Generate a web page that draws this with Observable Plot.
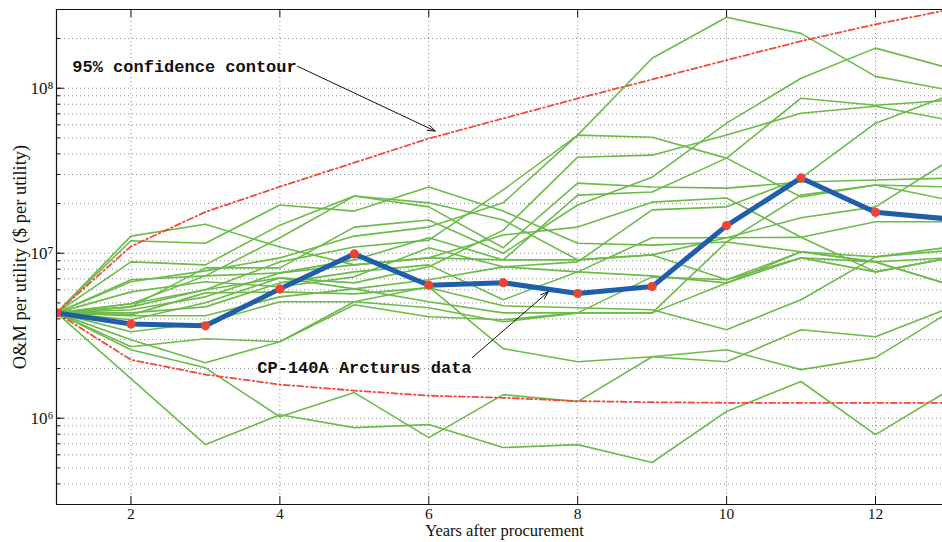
<!DOCTYPE html>
<html>
<head>
<meta charset="utf-8">
<script src="https://cdn.jsdelivr.net/npm/d3@7"></script>
<script src="https://cdn.jsdelivr.net/npm/@observablehq/plot@0.6"></script>
<style>
  html, body { margin: 0; padding: 0; background: #fff; overflow: hidden; }
</style>
</head>
<body>
<div id="chart"></div>
<script>
const years = [1, 2, 3, 4, 5, 6, 7, 8, 9, 10, 11, 12, 13];
const xTickValues = [2, 4, 6, 8, 10, 12];
const yMajorTicks = [1e6, 1e7, 1e8];

const arcturus = [4.35e6, 3.72e6, 3.63e6, 6.08e6, 9.9e6, 6.4e6, 6.63e6, 5.7e6, 6.28e6, 1.47e7, 2.86e7, 1.77e7, 1.61e7];
const upperContour = [4.35e6, 1.1e7, 1.78e7, 2.53e7, 3.54e7, 4.96e7, 6.56e7, 8.67e7, 1.13e8, 1.48e8, 1.93e8, 2.44e8, 3.0e8];
const lowerContour = [4.35e6, 2.26e6, 1.84e6, 1.6e6, 1.47e6, 1.37e6, 1.33e6, 1.27e6, 1.25e6, 1.24e6, 1.24e6, 1.24e6, 1.24e6];

const sim01 = [4.35e6, 4.94e6, 6.00e6, 8.86e6, 1.09e7, 1.20e7, 2.42e7, 5.20e7, 1.52e8, 2.69e8, 2.15e8, 1.18e8, 9.72e7];
const sim02 = [4.35e6, 3.95e6, 5.01e6, 7.09e6, 6.61e6, 8.27e6, 1.38e7, 3.82e7, 3.93e7, 5.20e7, 7.06e7, 7.78e7, 6.40e7];
const sim03 = [4.35e6, 6.71e6, 7.82e6, 9.37e6, 1.27e7, 1.44e7, 2.02e7, 5.20e7, 5.05e7, 3.77e7, 2.19e7, 2.59e7, 2.52e7];
const sim04 = [4.35e6, 1.27e7, 1.50e7, 1.09e7, 8.50e6, 9.37e6, 1.29e7, 1.44e7, 2.04e7, 2.16e7, 1.25e7, 1.55e7, 1.55e7];
const sim05 = [4.35e6, 1.19e7, 1.15e7, 1.96e7, 1.80e7, 2.52e7, 1.80e7, 1.15e7, 1.12e7, 1.17e7, 1.02e7, 9.50e6, 1.04e7];
const sim06 = [4.35e6, 8.86e6, 8.50e6, 1.48e7, 2.22e7, 2.02e7, 1.59e7, 9.11e6, 9.77e6, 6.90e6, 9.37e6, 7.71e6, 9.37e6];
const sim07 = [4.35e6, 6.90e6, 7.29e6, 1.24e7, 2.22e7, 1.91e7, 1.08e7, 2.66e7, 2.52e7, 2.48e7, 2.70e7, 2.78e7, 2.85e7];
const sim08 = [4.35e6, 4.73e6, 8.15e6, 8.15e6, 1.44e7, 1.59e7, 1.00e7, 1.96e7, 2.89e7, 6.14e7, 1.15e8, 1.75e8, 1.32e8];
const sim09 = [4.35e6, 4.54e6, 5.44e6, 7.60e6, 9.11e6, 1.24e7, 9.11e6, 2.25e7, 2.35e7, 3.77e7, 8.70e7, 7.89e7, 8.46e7];
const sim10 = [4.35e6, 5.83e6, 6.71e6, 6.26e6, 7.19e6, 1.08e7, 8.27e6, 8.86e6, 1.83e7, 1.91e7, 2.85e7, 6.14e7, 9.07e7];
const sim11 = [4.35e6, 4.35e6, 4.73e6, 6.61e6, 7.71e6, 8.50e6, 5.22e6, 7.71e6, 1.24e7, 1.24e7, 1.64e7, 1.91e7, 3.67e7];
const sim12 = [4.35e6, 4.23e6, 5.75e6, 5.83e6, 5.67e6, 6.17e6, 4.80e6, 4.67e6, 4.54e6, 3.44e6, 5.22e6, 9.50e6, 1.09e7];
const sim13 = [4.35e6, 4.18e6, 4.18e6, 5.44e6, 6.08e6, 5.08e6, 4.35e6, 4.35e6, 7.19e6, 6.90e6, 1.02e7, 8.86e6, 6.43e6];
const sim14 = [4.35e6, 3.34e6, 3.79e6, 5.08e6, 5.08e6, 4.67e6, 3.84e6, 4.35e6, 4.35e6, 1.17e7, 2.25e7, 2.59e7, 2.10e7];
const sim15 = [4.35e6, 2.71e6, 3.03e6, 2.91e6, 5.08e6, 6.26e6, 2.64e6, 2.20e6, 2.36e6, 2.20e6, 3.44e6, 3.12e6, 4.67e6];
const sim16 = [4.35e6, 2.99e6, 2.17e6, 2.91e6, 4.87e6, 4.12e6, 3.95e6, 4.35e6, 4.35e6, 6.61e6, 9.37e6, 8.86e6, 9.37e6];
const sim17 = [4.35e6, 2.60e6, 2.02e6, 1.02e6, 1.43e6, 7.63e5, 1.39e6, 1.26e6, 2.36e6, 2.60e6, 1.97e6, 2.33e6, 4.42e6];
const sim18 = [4.35e6, 1.74e6, 6.92e5, 1.05e6, 8.77e5, 9.15e5, 6.64e5, 6.92e5, 5.39e5, 1.10e6, 1.67e6, 7.96e5, 1.49e6];
const sim19 = [4.35e6, 4.94e6, 7.29e6, 7.60e6, 8.50e6, 9.37e6, 9.11e6, 9.11e6, 9.77e6, 1.24e7, 1.25e7, 7.71e6, 9.37e6];
const sim20 = [4.35e6, 4.73e6, 6.00e6, 7.09e6, 6.08e6, 6.90e6, 8.27e6, 7.71e6, 7.29e6, 6.61e6, 1.02e7, 8.86e6, 6.43e6];

const simulations = [sim01, sim02, sim03, sim04, sim05, sim06, sim07, sim08, sim09, sim10,
                     sim11, sim12, sim13, sim14, sim15, sim16, sim17, sim18, sim19, sim20];

const annotationTexts = ["95% confidence contour", "CP-140A Arcturus data"];
const annotationX = [1.212, 3.697];
const annotationY = [1.36e8, 2.02e6];
const arrowX1 = [4.234, 6.584];
const arrowY1 = [1.36e8, 2.33e6];
const arrowX2 = [6.087, 7.604];
const arrowY2 = [5.5e7, 5.83e6];

// tables built from the arrays
const simTable = simulations.flatMap((vals, run) => vals.map((v, i) => ({year: years[i], value: v, run})));
const series = (arr) => arr.map((v, i) => ({year: years[i], value: v}));
const annotations = annotationTexts.map((t, i) => ({text: t, x: annotationX[i], y: annotationY[i]}));
const arrows = arrowX1.map((d, i) => ({x1: d, y1: arrowY1[i], x2: arrowX2[i], y2: arrowY2[i]}));

const yMinorTicks = [];
for (let e = 5; e <= 8; e++) for (let k = 1; k <= 9; k++) {
  const v = k * Math.pow(10, e);
  if (v >= 3e5 * 1.001 && v <= 3e8 * 0.999) yMinorTicks.push(v);
}
const supDigits = {"5": "⁵", "6": "⁶", "7": "⁷", "8": "⁸"};
const fmtPow = (d) => "10" + supDigits[String(Math.round(Math.log10(d)))];

const serif = "'Liberation Serif', 'Times New Roman', Times, serif";
const mono = "'Liberation Mono', 'Courier New', Courier, monospace";
const gridStyle = {stroke: "#8a8a8a", strokeOpacity: 1, strokeWidth: 1, strokeDasharray: "1,3"};

const chart = Plot.plot({
  width: 942,
  height: 542,
  marginLeft: 56,
  marginRight: 0,
  marginTop: 9,
  marginBottom: 38,
  style: {fontFamily: serif, fontSize: "16px", background: "#fff", color: "#111"},
  x: {domain: [1, 12.9]},
  y: {type: "log", domain: [3e5, 3e8]},
  marks: [
    Plot.gridY(yMinorTicks, gridStyle),
    Plot.gridX(xTickValues, gridStyle),
    Plot.line(simTable, {x: "year", y: "value", z: "run", stroke: "#6cbb4a", strokeWidth: 1.6, clip: true}),
    Plot.line(series(upperContour), {x: "year", y: "value", stroke: "#f04a3a", strokeWidth: 1.8, strokeDasharray: "6,3,1.5,3", clip: true}),
    Plot.line(series(lowerContour), {x: "year", y: "value", stroke: "#f04a3a", strokeWidth: 1.8, strokeDasharray: "6,3,1.5,3", clip: true}),
    Plot.line(series(arcturus), {x: "year", y: "value", stroke: "#1f5ea8", strokeWidth: 5, clip: true}),
    Plot.dot(series(arcturus), {x: "year", y: "value", fill: "#ee4436", r: 4.6, clip: true}),
    Plot.arrow(arrows, {x1: "x1", y1: "y1", x2: "x2", y2: "y2", stroke: "#111", strokeWidth: 1, headLength: 12, headAngle: 40}),
    Plot.text(annotations, {x: "x", y: "y", text: "text", textAnchor: "start", fontFamily: mono, fontWeight: "bold", fontSize: 17, fill: "#111"}),
    Plot.axisX(xTickValues, {anchor: "bottom", tickSize: -8, tickPadding: 11, label: null, fontSize: 15.5}),
    Plot.axisX(xTickValues, {anchor: "top", tickSize: -7, tickFormat: () => "", label: null}),
    Plot.axisY(yMajorTicks, {anchor: "left", tickSize: -8, tickPadding: 11, tickFormat: fmtPow, label: null, fontSize: 17}),
    Plot.axisY(yMinorTicks, {anchor: "left", tickSize: -4, tickFormat: () => "", label: null}),
    Plot.ruleX([1], {stroke: "#111", strokeWidth: 1.2}),
    Plot.ruleY([3e5, 3e8], {stroke: "#111", strokeWidth: 1.2}),
    Plot.text(["Years after procurement"], {frameAnchor: "bottom", dy: 31.5, dx: 5, fontSize: 16.5, fontFamily: serif, fill: "#111"}),
    Plot.text(["O&M per utility ($ per utility)"], {frameAnchor: "left", textAnchor: "middle", dx: -36, rotate: -90, fontSize: 18.5, fontFamily: serif, fill: "#111"})
  ]
});
document.getElementById("chart").appendChild(chart);
</script>
</body>
</html>
